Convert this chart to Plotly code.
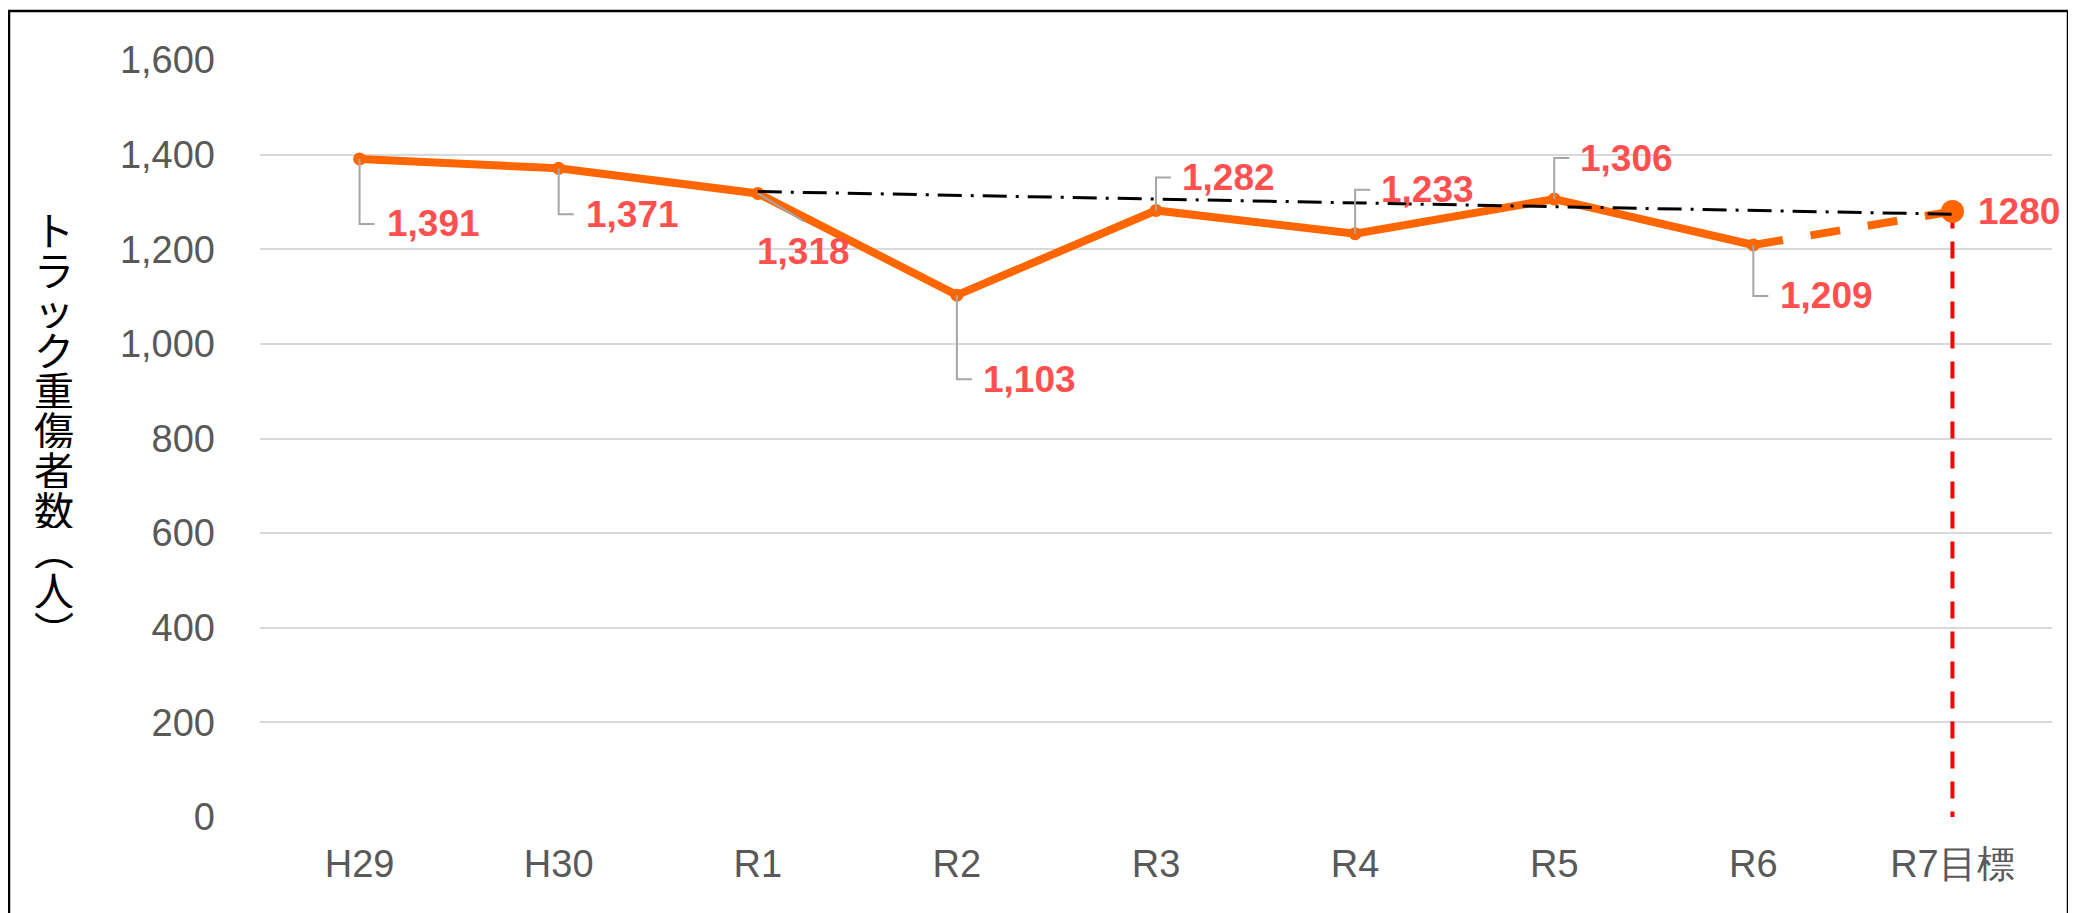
import plotly.graph_objects as go

# ---- data ----
categories = ["H29", "H30", "R1", "R2", "R3", "R4", "R5", "R6", "R7目標"]
actual = [1391, 1371, 1318, 1103, 1282, 1233, 1306, 1209]
target_value = 1280
trend_cats = ["R1", "R7目標"]
trend_values = [1322, 1274]
y_ticks = [0, 200, 400, 600, 800, 1000, 1200, 1400, 1600]
y_title = "トラック重傷者数︵人︶"

# ---- layout helpers (pixels, page coords; figure sits at 8px body margin) ----
OFF = 8
W, H = 2068, 905
L, T = 260 - OFF, 60 - OFF
PR, PB = 2052 - OFF, 817 - OFF
R, B = W - PR, H - PB
PW, PH = PR - L, PB - T

def px_x(X):
    return (X - OFF - L) / PW

def px_y(Y):
    return (PB - (Y - OFF)) / PH

ORANGE = "#FF6600"
LABEL_RED = "#FF5050"
GRAY_TXT = "#595959"

# label offsets: (label-left dx, label-center dy (down +), leader kind)
label_style = [
    (27, 65, "elbow"),
    (27, 46, "elbow"),
    (-1, 58, "diag"),
    (26, 84, "elbow"),
    (26, -33, "elbow"),
    (26, -44, "elbow"),
    (26, -41, "elbow"),
    (27, 51, "elbow"),
]

fig = go.Figure()

# red vertical dashed target line
fig.add_trace(go.Scatter(
    x=[categories[-1], categories[-1]], y=[target_value, 0],
    mode="lines", line=dict(color="#FF0000", width=4, dash="17px,13px"),
    hoverinfo="skip", showlegend=False))

# dashed projection R6 -> target
fig.add_trace(go.Scatter(
    x=[categories[len(actual) - 1], categories[-1]], y=[actual[-1], target_value],
    mode="lines", line=dict(color=ORANGE, width=8, dash="30px,28px"),
    hoverinfo="skip", showlegend=False))

# main series
fig.add_trace(go.Scatter(
    x=categories[:len(actual)], y=actual, mode="lines+markers",
    line=dict(color=ORANGE, width=8),
    marker=dict(color=ORANGE, size=13),
    showlegend=False))

# target marker
fig.add_trace(go.Scatter(
    x=[categories[-1]], y=[target_value], mode="markers",
    marker=dict(color=ORANGE, size=23), showlegend=False))

# trend line
fig.add_trace(go.Scatter(
    x=trend_cats, y=trend_values, mode="lines",
    line=dict(color="black", width=3, dash="24px,9px,3px,9px"),
    hoverinfo="skip", showlegend=False))

shapes = []
annotations = []
for i, v in enumerate(actual):
    dx, dy, kind = label_style[i]
    if kind == "elbow":
        path = f"M0,0 L0,{-dy} L15,{-dy}"
    else:
        path = "M0,0 L46,-28"
    shapes.append(dict(type="path", xref="x", yref="y",
                       xsizemode="pixel", ysizemode="pixel",
                       xanchor=i, yanchor=v, path=path,
                       line=dict(color="#A6A6A6", width=2)))
    annotations.append(dict(x=i, y=v, xref="x", yref="y", text=f"{v:,}",
                            showarrow=False, xanchor="left", yanchor="middle",
                            xshift=dx - 2, yshift=-dy,
                            font=dict(family="Liberation Sans", size=37,
                                      color=LABEL_RED, weight="bold")))
annotations.append(dict(x=len(categories) - 1, y=target_value, xref="x", yref="y",
                        text=f"{target_value}", showarrow=False,
                        xanchor="left", yanchor="middle", xshift=24, yshift=0,
                        font=dict(family="Liberation Sans", size=37,
                                  color=LABEL_RED, weight="bold")))

# vertical y-axis title, one glyph per cell
for k, ch in enumerate(y_title):
    annotations.append(dict(x=px_x(54), y=px_y(228 + 40 * k), xref="paper", yref="paper",
                            text=ch, showarrow=False, xanchor="center", yanchor="middle",
                            height=39, valign="middle",
                            font=dict(family="Noto Sans CJK JP", size=40, color="black")))

# outer border
shapes.append(dict(type="rect", xref="paper", yref="paper",
                   x0=px_x(9), x1=px_x(2068), y0=px_y(940), y1=px_y(11),
                   line=dict(color="black", width=2.5), layer="below"))

fig.update_layout(
    width=W, height=H,
    margin=dict(l=L, r=R, t=T, b=B, autoexpand=False),
    paper_bgcolor="white", plot_bgcolor="white",
    shapes=shapes, annotations=annotations,
    xaxis=dict(type="category", categoryorder="array", categoryarray=categories,
               range=[-0.5, len(categories) - 0.5], showgrid=False, zeroline=False,
               showline=False, ticks="", ticklabelstandoff=21,
               tickfont=dict(family="Liberation Sans", size=38, color=GRAY_TXT)),
    yaxis=dict(range=[0, 1600], tickvals=y_ticks,
               ticktext=[f"{t:,}" for t in y_ticks],
               showgrid=True, gridcolor="#D9D9D9", gridwidth=2,
               zeroline=False, showline=False, ticks="", ticklabelstandoff=44,
               tickfont=dict(family="Liberation Sans", size=38, color=GRAY_TXT)),
)

fig.write_html("out.html")
